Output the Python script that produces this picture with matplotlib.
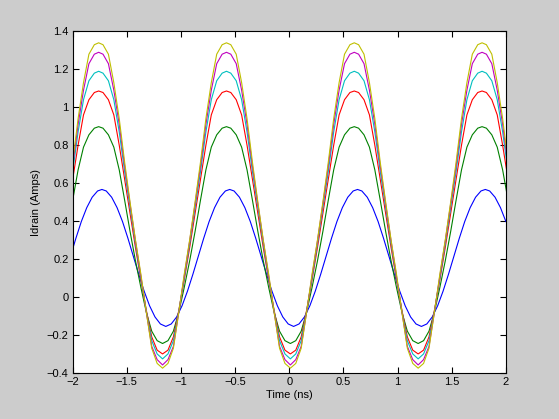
"""
Drain current vs time for six drive levels (MATLAB style figure)
"""

import matplotlib.pyplot as plt

# time samples (ns) shared by the green/red/cyan/magenta/yellow traces
t_a = [-2.00, -1.95, -1.90, -1.85, -1.80, -1.76,
       -1.72, -1.67, -1.62, -1.57, -1.52, -1.47, -1.42, -1.37, -1.32, -1.27, -1.22, -1.17,
       -1.12, -1.07, -1.02, -0.97, -0.92, -0.87, -0.82, -0.77, -0.72, -0.67, -0.62, -0.58,
       -0.54, -0.49, -0.44, -0.39, -0.34, -0.29, -0.24, -0.19, -0.14, -0.09, -0.04, 0.01,
       0.06, 0.11, 0.16, 0.21, 0.26, 0.31, 0.36, 0.41, 0.46, 0.51, 0.56, 0.60,
       0.64, 0.69, 0.74, 0.79, 0.84, 0.89, 0.94, 0.99, 1.04, 1.09, 1.14, 1.19,
       1.24, 1.29, 1.34, 1.39, 1.44, 1.49, 1.54, 1.59, 1.64, 1.69, 1.74, 1.78,
       1.82, 1.87, 1.92, 1.97, 2.02]

# the blue trace lags a little so it has its own time samples
t_b = [-2.02, -1.97, -1.92, -1.87, -1.82, -1.77, -1.73,
       -1.69, -1.64, -1.59, -1.54, -1.49, -1.44, -1.39, -1.34, -1.29, -1.24, -1.19, -1.14,
       -1.09, -1.04, -0.99, -0.94, -0.89, -0.84, -0.79, -0.74, -0.69, -0.64, -0.59, -0.55,
       -0.51, -0.46, -0.41, -0.36, -0.31, -0.26, -0.21, -0.16, -0.11, -0.06, -0.01, 0.04,
       0.09, 0.14, 0.19, 0.24, 0.29, 0.34, 0.39, 0.44, 0.49, 0.54, 0.59, 0.63,
       0.67, 0.72, 0.77, 0.82, 0.87, 0.92, 0.97, 1.02, 1.07, 1.12, 1.17, 1.22,
       1.27, 1.32, 1.37, 1.42, 1.47, 1.52, 1.57, 1.62, 1.67, 1.72, 1.77, 1.81,
       1.85, 1.90, 1.95, 2.00]

# drain current (Amps)
i_blue = [0.215, 0.31, 0.398, 0.471, 0.526, 0.559, 0.567,
          0.559, 0.526, 0.471, 0.398, 0.31, 0.215, 0.12, 0.031, -0.046, -0.105, -0.142, -0.155,
          -0.142, -0.105, -0.046, 0.031, 0.12, 0.215, 0.31, 0.398, 0.471, 0.526, 0.559, 0.567,
          0.559, 0.526, 0.471, 0.398, 0.31, 0.215, 0.12, 0.031, -0.046, -0.105, -0.142, -0.155,
          -0.142, -0.105, -0.046, 0.031, 0.12, 0.215, 0.31, 0.398, 0.471, 0.526, 0.559, 0.567,
          0.559, 0.526, 0.471, 0.398, 0.31, 0.215, 0.12, 0.031, -0.046, -0.105, -0.142, -0.155,
          -0.142, -0.105, -0.046, 0.031, 0.12, 0.215, 0.31, 0.398, 0.471, 0.526, 0.559, 0.567,
          0.559, 0.526, 0.471, 0.398]

i_green = [0.51, 0.67, 0.79, 0.855, 0.89, 0.898,
           0.89, 0.855, 0.79, 0.67, 0.51, 0.345, 0.19, 0.05, -0.08, -0.18, -0.23, -0.245,
           -0.23, -0.18, -0.08, 0.05, 0.19, 0.345, 0.51, 0.67, 0.79, 0.855, 0.89, 0.898,
           0.89, 0.855, 0.79, 0.67, 0.51, 0.345, 0.19, 0.05, -0.08, -0.18, -0.23, -0.245,
           -0.23, -0.18, -0.08, 0.05, 0.19, 0.345, 0.51, 0.67, 0.79, 0.855, 0.89, 0.898,
           0.89, 0.855, 0.79, 0.67, 0.51, 0.345, 0.19, 0.05, -0.08, -0.18, -0.23, -0.245,
           -0.23, -0.18, -0.08, 0.05, 0.19, 0.345, 0.51, 0.67, 0.79, 0.855, 0.89, 0.898,
           0.89, 0.855, 0.79, 0.67, 0.51]

i_red = [0.62, 0.80, 0.96, 1.04, 1.078, 1.086,
         1.078, 1.04, 0.96, 0.80, 0.62, 0.44, 0.26, 0.09, -0.07, -0.21, -0.28, -0.30,
         -0.28, -0.21, -0.07, 0.09, 0.26, 0.44, 0.62, 0.80, 0.96, 1.04, 1.078, 1.086,
         1.078, 1.04, 0.96, 0.80, 0.62, 0.44, 0.26, 0.09, -0.07, -0.21, -0.28, -0.30,
         -0.28, -0.21, -0.07, 0.09, 0.26, 0.44, 0.62, 0.80, 0.96, 1.04, 1.078, 1.086,
         1.078, 1.04, 0.96, 0.80, 0.62, 0.44, 0.26, 0.09, -0.07, -0.21, -0.28, -0.30,
         -0.28, -0.21, -0.07, 0.09, 0.26, 0.44, 0.62, 0.80, 0.96, 1.04, 1.078, 1.086,
         1.078, 1.04, 0.96, 0.80, 0.62]

i_cyan = [0.66, 0.87, 1.04, 1.14, 1.18, 1.19,
          1.18, 1.14, 1.04, 0.87, 0.66, 0.47, 0.28, 0.10, -0.075, -0.23, -0.30, -0.326,
          -0.30, -0.23, -0.075, 0.10, 0.28, 0.47, 0.66, 0.87, 1.04, 1.14, 1.18, 1.19,
          1.18, 1.14, 1.04, 0.87, 0.66, 0.47, 0.28, 0.10, -0.075, -0.23, -0.30, -0.326,
          -0.30, -0.23, -0.075, 0.10, 0.28, 0.47, 0.66, 0.87, 1.04, 1.14, 1.18, 1.19,
          1.18, 1.14, 1.04, 0.87, 0.66, 0.47, 0.28, 0.10, -0.075, -0.23, -0.30, -0.326,
          -0.30, -0.23, -0.075, 0.10, 0.28, 0.47, 0.66, 0.87, 1.04, 1.14, 1.18, 1.19,
          1.18, 1.14, 1.04, 0.87, 0.66]

i_magenta = [0.69, 0.91, 1.09, 1.23, 1.28, 1.29,
             1.28, 1.23, 1.09, 0.91, 0.69, 0.49, 0.295, 0.11, -0.08, -0.26, -0.33, -0.358,
             -0.33, -0.26, -0.08, 0.11, 0.295, 0.49, 0.69, 0.91, 1.09, 1.23, 1.28, 1.29,
             1.28, 1.23, 1.09, 0.91, 0.69, 0.49, 0.295, 0.11, -0.08, -0.26, -0.33, -0.358,
             -0.33, -0.26, -0.08, 0.11, 0.295, 0.49, 0.69, 0.91, 1.09, 1.23, 1.28, 1.29,
             1.28, 1.23, 1.09, 0.91, 0.69, 0.49, 0.295, 0.11, -0.08, -0.26, -0.33, -0.358,
             -0.33, -0.26, -0.08, 0.11, 0.295, 0.49, 0.69, 0.91, 1.09, 1.23, 1.28, 1.29,
             1.28, 1.23, 1.09, 0.91, 0.69]

i_yellow = [0.71, 0.94, 1.13, 1.28, 1.33, 1.34,
            1.33, 1.28, 1.13, 0.94, 0.71, 0.50, 0.30, 0.12, -0.08, -0.27, -0.35, -0.375,
            -0.35, -0.27, -0.08, 0.12, 0.30, 0.50, 0.71, 0.94, 1.13, 1.28, 1.33, 1.34,
            1.33, 1.28, 1.13, 0.94, 0.71, 0.50, 0.30, 0.12, -0.08, -0.27, -0.35, -0.375,
            -0.35, -0.27, -0.08, 0.12, 0.30, 0.50, 0.71, 0.94, 1.13, 1.28, 1.33, 1.34,
            1.33, 1.28, 1.13, 0.94, 0.71, 0.50, 0.30, 0.12, -0.08, -0.27, -0.35, -0.375,
            -0.35, -0.27, -0.08, 0.12, 0.30, 0.50, 0.71, 0.94, 1.13, 1.28, 1.33, 1.34,
            1.33, 1.28, 1.13, 0.94, 0.71]

x_ticks = [-2, -1.5, -1, -0.5, 0, 0.5, 1, 1.5, 2]
x_labels = ['\u22122', '\u22121.5', '\u22121', '\u22120.5', '0', '0.5', '1', '1.5', '2']
y_ticks = [-0.4, -0.2, 0, 0.2, 0.4, 0.6, 0.8, 1, 1.2, 1.4]
y_labels = ['\u22120.4', '\u22120.2', '0', '0.2', '0.4', '0.6', '0.8', '1', '1.2', '1.4']

plt.rcParams['font.family'] = ['Liberation Sans', 'DejaVu Sans']
plt.rcParams['font.size'] = 8

fig = plt.figure(figsize=(5.59, 4.19), dpi=100, facecolor='#cccccc')
ax = fig.add_axes([0.13, 0.11, 0.775, 0.815])

lw = 0.8
ax.plot(t_b, i_blue, color=(0, 0, 1), lw=lw)
ax.plot(t_a, i_green, color=(0, 0.5, 0), lw=lw)
ax.plot(t_a, i_red, color=(1, 0, 0), lw=lw)
ax.plot(t_a, i_cyan, color=(0, 0.75, 0.75), lw=lw)
ax.plot(t_a, i_magenta, color=(0.75, 0, 0.75), lw=lw)
ax.plot(t_a, i_yellow, color=(0.75, 0.75, 0), lw=lw)

ax.set_xlim(-2, 2)
ax.set_ylim(-0.4, 1.4)
ax.set_xticks(x_ticks)
ax.set_xticklabels(x_labels)
ax.set_yticks(y_ticks)
ax.set_yticklabels(y_labels)
ax.tick_params(direction='in', length=4, width=0.8, top=True, right=True, pad=3)
for s in ax.spines.values():
    s.set_linewidth(0.8)

ax.set_xlabel('Time (ns)', labelpad=2)
ax.set_ylabel('Idrain (Amps)', labelpad=4)

fig.savefig('out.png', dpi=100, facecolor=fig.get_facecolor())
